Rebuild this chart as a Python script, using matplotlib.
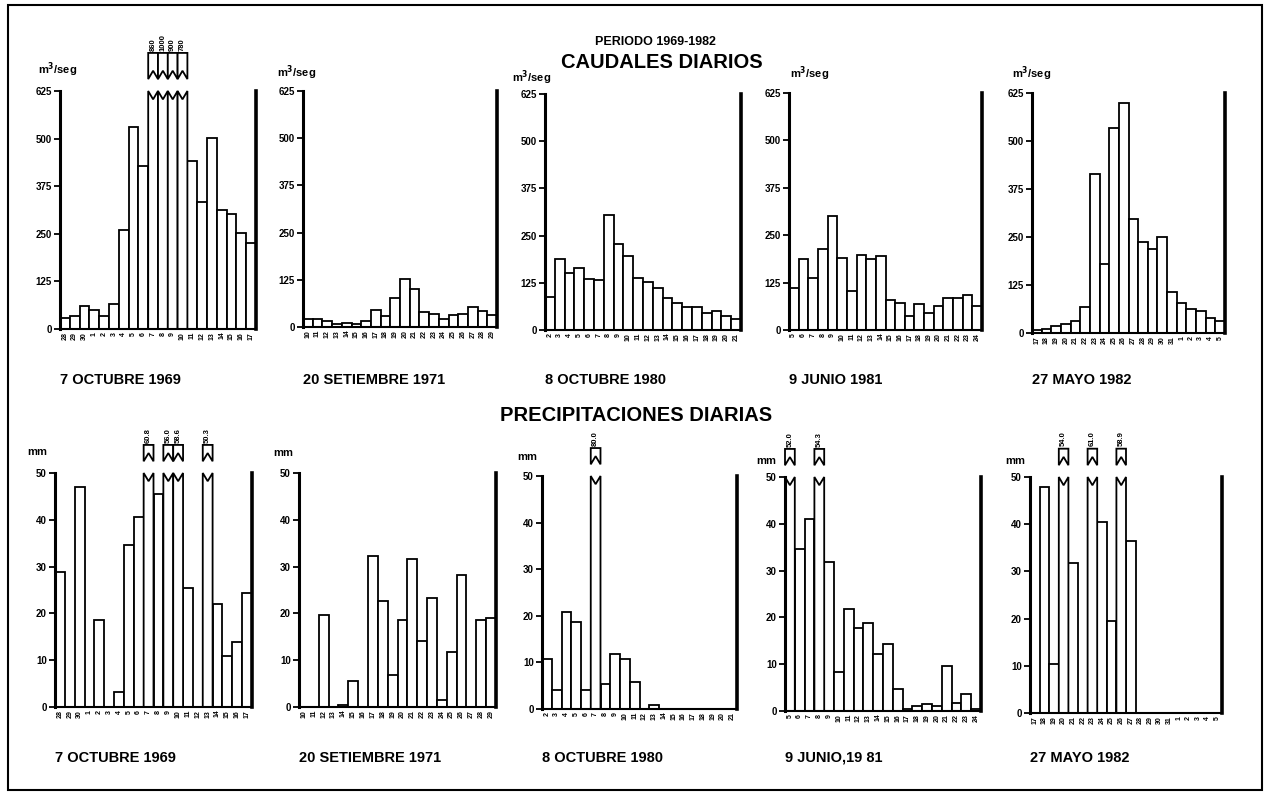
import matplotlib
matplotlib.use("Agg")
import matplotlib.pyplot as plt
from matplotlib.patches import Polygon, Rectangle
import numpy as np

plt.rcParams['font.family'] = ['Liberation Sans', 'DejaVu Sans']
plt.rcParams['font.weight'] = 'bold'

# ---------------- data ----------------
event_titles = ["7 OCTUBRE 1969", "20 SETIEMBRE 1971", "8 OCTUBRE 1980",
                "9 JUNIO 1981", "27 MAYO 1982"]
precip_titles = ["7 OCTUBRE 1969", "20 SETIEMBRE 1971", "8 OCTUBRE 1980",
                 "9 JUNIO,19 81", "27 MAYO 1982"]

days_1969 = [28, 29, 30, 1, 2, 3, 4, 5, 6, 7, 8, 9, 10, 11, 12, 13, 14, 15, 16, 17]
days_1971 = [10, 11, 12, 13, 14, 15, 16, 17, 18, 19, 20, 21, 22, 23, 24, 25, 26, 27, 28, 29]
days_1980 = [2, 3, 4, 5, 6, 7, 8, 9, 10, 11, 12, 13, 14, 15, 16, 17, 18, 19, 20, 21]
days_1981 = [5, 6, 7, 8, 9, 10, 11, 12, 13, 14, 15, 16, 17, 18, 19, 20, 21, 22, 23, 24]
days_1982 = [17, 18, 19, 20, 21, 22, 23, 24, 25, 26, 27, 28, 29, 30, 31, 1, 2, 3, 4, 5]

# daily discharge (m3/seg); values above 625 are drawn as broken bars
caudal_1969 = [28, 35, 61, 50, 35, 66, 261, 531, 429, 860, 1000, 900, 780,
               440, 333, 501, 313, 301, 251, 226]
caudal_1971 = [22, 20, 15, 9, 11, 9, 16, 46, 29, 78, 128, 101, 40, 34, 20,
               31, 35, 53, 42, 31]
caudal_1980 = [88, 187, 152, 163, 134, 132, 305, 229, 196, 139, 126, 112,
               85, 71, 62, 60, 44, 49, 37, 29]
caudal_1981 = [111, 186, 136, 213, 300, 189, 103, 198, 186, 196, 79, 70,
               37, 69, 46, 64, 85, 85, 92, 64]
caudal_1982 = [9, 11, 19, 24, 31, 68, 413, 179, 535, 599, 296, 237, 218,
               250, 108, 79, 63, 57, 39, 30]

# daily precipitation (mm); values above 50 are drawn as broken bars
precip_1969 = [28.8, 0, 47.0, 0, 18.5, 0, 3.2, 34.7, 40.7, 60.8, 45.6, 56.0,
               58.6, 25.4, 0, 50.3, 22.1, 11.0, 13.9, 24.4]
precip_1971 = [0, 0, 19.6, 0, 0.4, 5.6, 0, 32.3, 22.6, 6.8, 18.5, 31.6, 14.0,
               23.3, 1.4, 11.8, 28.1, 0, 18.5, 19.0]
precip_1980 = [10.8, 4.0, 20.8, 18.6, 4.0, 80.0, 5.4, 11.9, 10.8, 5.8, 0,
               0.9, 0, 0, 0, 0, 0, 0, 0, 0]
precip_1981 = [52.0, 34.6, 41.0, 54.3, 31.8, 8.4, 21.7, 17.8, 18.9, 12.1, 14.4,
               4.8, 0.5, 1.0, 1.6, 1.1, 9.6, 1.7, 3.7, 0.5]
precip_1982 = [0, 47.9, 10.4, 54.0, 31.7, 0, 61.0, 40.4, 19.4, 58.9, 36.4,
               0, 0, 0, 0, 0, 0, 0, 0, 0]

caudal_ticks = [0, 125, 250, 375, 500, 625]
precip_ticks = [0, 10, 20, 30, 40, 50]

days = [days_1969, days_1971, days_1980, days_1981, days_1982]
caudales = [caudal_1969, caudal_1971, caudal_1980, caudal_1981, caudal_1982]
precips = [precip_1969, precip_1971, precip_1980, precip_1981, precip_1982]

# ---------------- layout (pixels) ----------------
W, H = 1267, 794
fig = plt.figure(figsize=(W / 100, H / 100), dpi=100)
fig.patch.set_facecolor('white')

# (left, right, y of zero, y of top) in pixel coordinates
top_boxes = [(60, 256, 329, 91), (303, 497, 327, 91), (545, 741, 330, 94),
             (789, 982, 330, 93), (1032, 1225, 333, 93)]
bot_boxes = [(55, 252, 707, 473), (299, 496, 707, 473), (542, 737, 709, 476),
             (785, 981, 711, 477), (1030, 1222, 713, 477)]
# unit label positions (x, y) in pixels
top_units = [(38, 70), (277, 73), (512, 78), (790, 74), (1012, 74)]
bot_units = [(27, 452), (273, 453), (517, 457), (756, 461), (1005, 461)]


def make_ax(box):
    l, r, y0, yt = box
    return fig.add_axes([l / W, (H - y0) / H, (r - l) / W, (y0 - yt) / H])


def fmt_val(v, lim):
    return f"{v:.0f}" if lim > 100 else f"{v:.1f}"


def draw_panel(ax, vals, ticks, daylist, upper_top):
    vals = np.asarray(vals, dtype=float)
    n = len(vals)
    lim = ticks[-1]
    x = np.arange(n)
    ax.set_xlim(-0.5, n - 0.5)
    ax.set_ylim(0, lim)
    normal = vals <= lim
    ax.bar(x[normal], vals[normal], width=1.0, color='white',
           edgecolor='black', linewidth=1.3, zorder=2)
    d = 0.035 * lim
    for i in x[~normal]:
        lower = [(i - .5, 0), (i - .5, lim), (i, lim - d), (i + .5, lim), (i + .5, 0)]
        ax.add_patch(Polygon(lower, closed=True, facecolor='white',
                             edgecolor='black', lw=1.3, clip_on=False, zorder=2))
        b, u = 1.05 * lim, upper_top * lim
        upper = [(i - .5, b), (i, b + d), (i + .5, b), (i + .5, u), (i - .5, u)]
        ax.add_patch(Polygon(upper, closed=True, facecolor='white',
                             edgecolor='black', lw=1.3, clip_on=False, zorder=2))
        ax.text(i, u + 0.01 * lim, fmt_val(vals[i], lim), rotation=90,
                ha='center', va='bottom', fontsize=5.5, fontweight='bold')
    ax.set_yticks(ticks)
    ax.set_yticklabels([str(t) for t in ticks])
    ax.set_xticks(x)
    ax.set_xticklabels([str(dd) for dd in daylist], rotation=90, fontsize=5)
    ax.tick_params(axis='y', direction='out', length=4, width=1.3,
                   labelsize=7, pad=2)
    ax.tick_params(axis='x', length=0, pad=2)
    for lab in ax.get_yticklabels() + ax.get_xticklabels():
        lab.set_fontweight('bold')
    ax.spines['top'].set_visible(False)
    ax.spines['left'].set_linewidth(2.2)
    ax.spines['right'].set_linewidth(2.6)
    ax.spines['bottom'].set_linewidth(1.5)
    ax.set_facecolor('none')


for k in range(5):
    ax = make_ax(top_boxes[k])
    draw_panel(ax, caudales[k], caudal_ticks, days[k], 1.16)
    l, r, y0, yt = top_boxes[k]
    ux, uy = top_units[k]
    fig.text(ux / W, 1 - uy / H, "m$^3$/seg", fontsize=8, fontweight='bold',
             ha='left', va='center')
    fig.text(l / W, 1 - 380 / H, event_titles[k], fontsize=10.5,
             fontweight='bold', ha='left', va='center')

for k in range(5):
    ax = make_ax(bot_boxes[k])
    draw_panel(ax, precips[k], precip_ticks, days[k], 1.12)
    l, r, y0, yt = bot_boxes[k]
    ux, uy = bot_units[k]
    fig.text(ux / W, 1 - uy / H, "mm", fontsize=8, fontweight='bold',
             ha='left', va='center')
    fig.text(l / W, 1 - 758 / H, precip_titles[k], fontsize=10.5,
             fontweight='bold', ha='left', va='center')

fig.text(655 / W, 1 - 42 / H, "PERIODO 1969-1982", fontsize=9,
         fontweight='bold', ha='center', va='center')
fig.text(662 / W, 1 - 62 / H, "CAUDALES DIARIOS", fontsize=14.5,
         fontweight='bold', ha='center', va='center')
fig.text(636 / W, 1 - 415 / H, "PRECIPITACIONES DIARIAS", fontsize=14.5,
         fontweight='bold', ha='center', va='center')

fig.add_artist(Rectangle((8 / W, 1 - 790 / H), (1262 - 8) / W, (790 - 5) / H,
                         transform=fig.transFigure, fill=False,
                         edgecolor='black', lw=1.5))

fig.savefig("out.png", dpi=100)
